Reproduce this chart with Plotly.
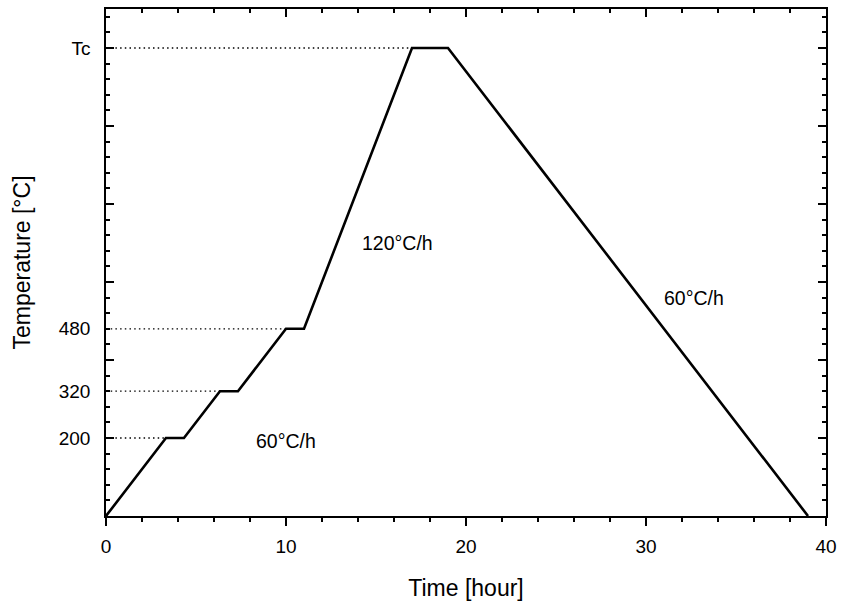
import plotly.graph_objects as go

# Heating schedule
time_h = [0, 3.33, 4.33, 6.33, 7.33, 10, 11, 17, 19, 39]
temp_c = [0, 200, 200, 320, 320, 480, 480, 1200, 1200, 0]

# Labelled temperature levels (dotted guide lines)
level_vals = [200, 320, 480, 1200]
level_text = ["200", "320", "480", "Tc"]
level_end_time = [3.33, 6.33, 10, 17]

# Rate annotations
rate_labels = ["60°C/h", "120°C/h", "60°C/h"]
rate_x = [10.0, 16.17, 32.65]
rate_y = [193, 700, 559]

x_range = [0, 40]
y_range = [0, 1300]

FONT = "Liberation Sans, Arial, sans-serif"

fig = go.Figure()

for v, t_end in zip(level_vals, level_end_time):
    fig.add_trace(go.Scatter(x=[0, t_end], y=[v, v], mode="lines",
                             line=dict(color="black", width=1.3, dash="1.5px,3.2px"),
                             showlegend=False, hoverinfo="skip"))

fig.add_trace(go.Scatter(x=time_h, y=temp_c, mode="lines",
                         line=dict(color="black", width=2.6),
                         showlegend=False))

# dummy trace on secondary axes so they render
fig.add_trace(go.Scatter(x=[0], y=[0], xaxis="x2", yaxis="y2", mode="markers",
                         marker=dict(opacity=0), showlegend=False, hoverinfo="skip"))

for txt, xx, yy in zip(rate_labels, rate_x, rate_y):
    fig.add_annotation(x=xx, y=yy, text=txt, showarrow=False,
                       font=dict(family=FONT, size=19.5, color="black"))

fig.update_layout(
    width=841, height=604,
    margin=dict(l=106, r=15, t=9, b=88),
    paper_bgcolor="white", plot_bgcolor="white",
    font=dict(family=FONT, size=19, color="black"),
    xaxis=dict(range=x_range, dtick=10, tick0=0, ticks="outside", ticklen=8,
               tickwidth=1.5, tickcolor="black", ticklabelstandoff=4,
               showline=True, linecolor="black", linewidth=1.5,
               showgrid=False, zeroline=False, automargin=False,
               minor=dict(dtick=2, ticks="outside", ticklen=4, tickwidth=1.5,
                          tickcolor="black", showgrid=False),
               title=dict(text="Time [hour]", font=dict(size=23), standoff=24),
               tickfont=dict(size=19)),
    xaxis2=dict(range=x_range, overlaying="x", side="top", anchor="y",
                dtick=10, tick0=0, ticks="inside", ticklen=8, tickwidth=1.5,
                tickcolor="black", showticklabels=False,
                showline=True, linecolor="black", linewidth=1.5,
                showgrid=False, zeroline=False,
                minor=dict(dtick=2, ticks="inside", ticklen=4, tickwidth=1.5,
                           tickcolor="black", showgrid=False)),
    yaxis=dict(range=y_range, tickvals=level_vals, ticktext=level_text,
               ticks="", showline=True, linecolor="black", linewidth=1.5,
               showgrid=False, zeroline=False, ticklabelstandoff=10,
               automargin=False,
               title=dict(text="Temperature [°C]", font=dict(size=23), standoff=22),
               tickfont=dict(size=19)),
    yaxis2=dict(range=y_range, overlaying="y", anchor="x", side="left",
                dtick=200, tick0=0, ticks="inside", ticklen=8, tickwidth=1.5,
                tickcolor="black", showticklabels=False, mirror="ticks",
                showline=True, linecolor="black", linewidth=1.5,
                showgrid=False, zeroline=False,
                minor=dict(dtick=40, ticks="inside", ticklen=4, tickwidth=1.5,
                           tickcolor="black", showgrid=False)),
)

fig.write_html("out.html")
